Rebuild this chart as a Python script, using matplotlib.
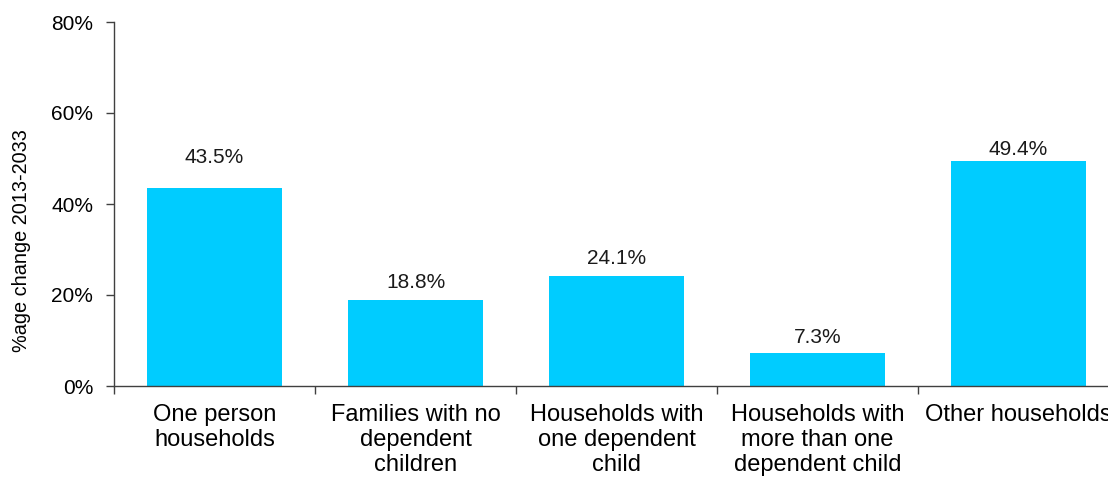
import numpy as np
import matplotlib
matplotlib.use("Agg")
import matplotlib.pyplot as plt
from matplotlib.ticker import FuncFormatter

# data
categories = ["One person\nhouseholds", "Families with no\ndependent\nchildren",
              "Households with\none dependent\nchild", "Households with\nmore than one\ndependent child",
              "Other households"]
values = [43.5, 18.8, 24.1, 7.3, 49.4]
yticks = [0, 20, 40, 60, 80]

# label offsets above bar top (pixels), as placed in the original
label_offsets = [31, 18, 18, 15, 12]

plt.rcParams['font.family'] = ['Liberation Sans', 'DejaVu Sans']

fig = plt.figure(figsize=(11.08, 4.8), dpi=100)
W, H = 1108, 480
ax = fig.add_axes([114 / W, (H - 386) / H, 1005 / W, 364 / H])

x = np.arange(len(values))
ax.bar(x, values, width=0.667, color="#00CCFF", zorder=2)

ax.set_xlim(-0.5, len(values) - 0.5)
ax.set_ylim(0, 80)
ax.set_yticks(yticks)
ax.yaxis.set_major_formatter(FuncFormatter(lambda v, p: "%d%%" % v))

ax.set_xticks(x)
ax.set_xticklabels(categories, fontsize=17, linespacing=1.17)
ax.set_xticks(np.arange(-0.5, len(values)), minor=True)
ax.tick_params(axis='x', which='major', length=0, pad=13)
ax.tick_params(axis='x', which='minor', length=6, color="#404040", width=1)
ax.tick_params(axis='y', length=6, color="#404040", width=1, labelsize=15, pad=9)

for s in ['top', 'right']:
    ax.spines[s].set_visible(False)
for s in ['left', 'bottom']:
    ax.spines[s].set_color("#404040")
    ax.spines[s].set_linewidth(1)

for xi, v, off in zip(x, values, label_offsets):
    ax.annotate("%.1f%%" % v, (xi, v), xytext=(0, off * 0.72), textcoords="offset points",
                ha="center", va="center", fontsize=15, color="#1a1a1a")

fig.text(22 / W, (H - 241) / H, "%age change 2013-2033", rotation=90,
         ha="center", va="center", fontsize=14.3)

fig.savefig("out.png", dpi=100)
